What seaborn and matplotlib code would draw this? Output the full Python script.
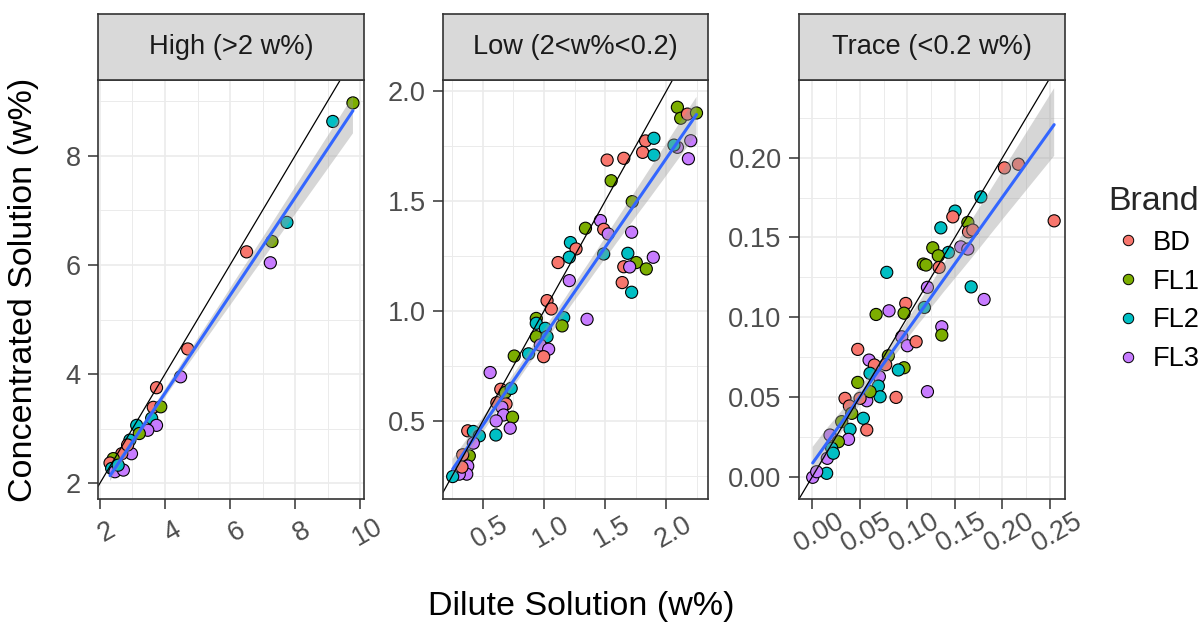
import matplotlib
matplotlib.use("Agg")
import matplotlib.pyplot as plt
import matplotlib.transforms as mtransforms
from matplotlib.ticker import MultipleLocator, FormatStrFormatter
from matplotlib.lines import Line2D
import pandas as pd
import seaborn as sns

# ---- data -------------------------------------------------------------
brands = ["BD", "FL1", "FL2", "FL3"]
brand_colors = ["#F8766D", "#7CAE00", "#00BFC4", "#C77CFF"]
panel_titles = ["High (>2 w%)", "Low (2<w%<0.2)", "Trace (<0.2 w%)"]

high_dilute = [9.78, 9.16, 7.75, 7.29, 6.51, 7.24, 4.70, 4.48, 3.74, 3.64, 3.87, 3.59, 3.74,
               3.47, 3.13, 3.21, 2.92, 2.97, 2.67, 2.41, 2.31, 2.36, 2.46, 2.72, 2.56, 2.85]
high_conc = [8.97, 8.63, 6.78, 6.43, 6.24, 6.04, 4.46, 3.95, 3.75, 3.39, 3.40, 3.19, 3.06,
             2.97, 3.06, 2.91, 2.79, 2.54, 2.54, 2.45, 2.37, 2.27, 2.21, 2.24, 2.33, 2.70]
high_brand = ["FL1", "FL2", "FL2", "FL1", "BD", "FL3", "BD", "FL3", "BD", "BD", "FL1", "FL2", "FL3",
              "FL3", "FL2", "FL1", "FL2", "FL3", "BD", "FL1", "BD", "FL2", "FL3", "FL3", "FL2", "BD"]

low_dilute = [2.090, 2.117, 2.172, 2.246, 2.199, 2.090, 2.062, 2.180, 1.830, 1.898, 1.806, 1.898,
              1.516, 1.652, 1.549, 1.721, 1.461, 1.488, 1.525, 1.339, 1.716, 1.488, 1.685, 1.893,
              1.754, 1.652, 1.700, 1.836, 1.639, 1.716, 1.216, 1.262, 1.207, 1.115, 1.207, 1.025,
              1.060, 1.352, 1.161, 0.937, 0.937, 1.011, 1.148, 0.937, 1.025, 0.970, 1.038, 0.997,
              0.757, 0.874, 0.560, 0.647, 0.683, 0.732, 0.615, 0.690, 0.656, 0.670, 0.743, 0.609,
              0.724, 0.607, 0.377, 0.423, 0.472, 0.423, 0.390, 0.336, 0.377, 0.369, 0.308, 0.254,
              0.330]
low_conc = [1.926, 1.876, 1.895, 1.900, 1.774, 1.744, 1.754, 1.692, 1.773, 1.785, 1.721, 1.709,
            1.686, 1.694, 1.592, 1.497, 1.411, 1.371, 1.350, 1.376, 1.358, 1.259, 1.262, 1.244,
            1.220, 1.201, 1.200, 1.191, 1.129, 1.085, 1.311, 1.282, 1.244, 1.220, 1.138, 1.047,
            1.009, 0.962, 0.970, 0.966, 0.944, 0.921, 0.932, 0.883, 0.883, 0.845, 0.826, 0.792,
            0.795, 0.805, 0.720, 0.644, 0.629, 0.648, 0.583, 0.577, 0.562, 0.527, 0.517, 0.500,
            0.467, 0.436, 0.455, 0.452, 0.432, 0.399, 0.341, 0.346, 0.295, 0.258, 0.258, 0.247,
            0.290]
low_brand = ["FL1", "FL1", "BD", "FL1", "FL3", "FL3", "FL2", "FL3", "BD", "FL2", "BD", "FL2",
             "BD", "BD", "FL1", "FL1", "FL3", "BD", "FL3", "FL1", "FL3", "FL2", "FL2", "FL3",
             "FL1", "BD", "FL3", "FL1", "BD", "FL2", "FL2", "BD", "FL2", "BD", "FL3", "BD",
             "BD", "FL3", "FL2", "FL1", "FL2", "FL2", "FL1", "FL1", "FL2", "FL3", "FL3", "BD",
             "FL1", "FL2", "FL3", "BD", "FL1", "FL2", "BD", "BD", "FL3", "FL3", "FL1", "FL3",
             "FL3", "FL2", "BD", "FL2", "FL2", "FL3", "FL1", "BD", "FL3", "FL3", "FL3", "FL2",
             "BD"]

trace_dilute = [0.2544, 0.2021, 0.2168, 0.1773, 0.1502, 0.1478, 0.1352, 0.1636, 0.1643, 0.1688,
                0.1562, 0.1636, 0.1432, 0.1267, 0.1326, 0.1168, 0.1196, 0.1334, 0.0783, 0.1211,
                0.1671, 0.1807, 0.1179, 0.0983, 0.0807, 0.0671, 0.0965, 0.1362, 0.1362, 0.0941,
                0.1000, 0.1092, 0.0478, 0.0597, 0.0653, 0.0800, 0.0772, 0.0607, 0.0965, 0.0905,
                0.0705, 0.0695, 0.0478, 0.1211, 0.0713, 0.0881, 0.0573, 0.0607, 0.0344, 0.0390,
                0.0502, 0.0415, 0.0537, 0.0573, 0.0309, 0.0397, 0.0381, 0.0186, 0.0274, 0.0204,
                0.0158, 0.0151, 0.0004, 0.0046, 0.0221]
trace_conc = [0.1604, 0.1936, 0.1959, 0.1754, 0.1665, 0.1629, 0.1560, 0.1594, 0.1535, 0.1546,
              0.1441, 0.1427, 0.1406, 0.1435, 0.1385, 0.1333, 0.1327, 0.1312, 0.1281, 0.1187,
              0.1190, 0.1111, 0.1061, 0.1086, 0.1040, 0.1017, 0.1025, 0.0940, 0.0888, 0.0877,
              0.0821, 0.0846, 0.0798, 0.0731, 0.0700, 0.0758, 0.0702, 0.0648, 0.0683, 0.0669,
              0.0627, 0.0568, 0.0591, 0.0533, 0.0501, 0.0497, 0.0476, 0.0533, 0.0491, 0.0443,
              0.0491, 0.0397, 0.0366, 0.0293, 0.0345, 0.0297, 0.0234, 0.0261, 0.0219, 0.0178,
              0.0115, 0.0021, -0.0004, 0.0031, 0.0147]
trace_brand = ["BD", "BD", "BD", "FL2", "FL2", "BD", "FL2", "FL1", "BD", "BD",
               "FL3", "FL3", "FL2", "FL1", "FL1", "FL1", "FL1", "BD", "FL2", "FL3",
               "FL2", "FL3", "FL2", "BD", "FL3", "FL1", "FL1", "FL3", "FL1", "FL3",
               "FL3", "BD", "BD", "FL3", "BD", "FL1", "BD", "FL2", "FL1", "FL2",
               "FL3", "FL2", "FL1", "FL3", "FL2", "BD", "FL3", "FL1", "BD", "BD",
               "BD", "FL1", "FL2", "BD", "FL1", "FL2", "FL3", "FL3", "FL1", "FL2",
               "FL3", "FL2", "FL3", "FL3", "FL2"]

panel_data = [
    (high_dilute, high_conc, high_brand),
    (low_dilute, low_conc, low_brand),
    (trace_dilute, trace_conc, trace_brand),
]

# ---- axis settings (free scales per facet) ----------------------------
x_limits = [(1.94, 10.12), (0.175, 2.34), (-0.014, 0.2658)]
y_limits = [(1.71, 9.39), (0.145, 2.05), (-0.014, 0.2487)]
major_steps = [2, 0.5, 0.05]
tick_formats = ["%d", "%.1f", "%.2f"]

# ---- styling ----------------------------------------------------------
sns.set_theme(style="ticks")
plt.rcParams["font.family"] = ["Liberation Sans", "DejaVu Sans"]

W, H = 1201, 626
fig = plt.figure(figsize=(W / 100, H / 100), dpi=100)


def px_box(x0, y0, x1, y1):
    """Axes rectangle from pixel edges (origin top-left)."""
    return [x0 / W, 1 - y1 / H, (x1 - x0) / W, (y1 - y0) / H]


panel_cols = [(98, 364), (443, 708), (799, 1065)]
strip_top, panel_top, panel_bottom = 14, 80, 499
border = "#333333"
tick_fs, title_fs = 19.6, 24.5

for i, (x0, x1) in enumerate(panel_cols):
    dil, conc, brand = panel_data[i]
    df = pd.DataFrame({"dilute": dil, "conc": conc, "Brand": brand})

    ax = fig.add_axes(px_box(x0, panel_top, x1, panel_bottom))
    ax.set_facecolor("white")

    sns.scatterplot(data=df, x="dilute", y="conc", hue="Brand", hue_order=brands,
                    palette=brand_colors, s=76, edgecolor="black", linewidth=0.8,
                    legend=False, ax=ax, zorder=3)
    sns.regplot(data=df, x="dilute", y="conc", scatter=False, ax=ax, color="#3366FF",
                ci=95, n_boot=1000, seed=7, line_kws=dict(lw=2.2, zorder=5))
    band = ax.collections[-1]
    band.set_facecolor("#999999")
    band.set_alpha(0.4)
    band.set_edgecolor("none")
    band.set_zorder(4)
    ax.axline((0, 0), slope=1, color="black", lw=0.9, zorder=6)

    ax.set_xlim(*x_limits[i])
    ax.set_ylim(*y_limits[i])
    step = major_steps[i]
    for axis in (ax.xaxis, ax.yaxis):
        axis.set_major_locator(MultipleLocator(step))
        axis.set_minor_locator(MultipleLocator(step / 2))
        axis.set_major_formatter(FormatStrFormatter(tick_formats[i]))
    ax.set_axisbelow(True)
    ax.grid(which="major", color="#EBEBEB", lw=1.2)
    ax.grid(which="minor", color="#EBEBEB", lw=0.7)
    ax.set_xlabel("")
    ax.set_ylabel("")

    for s in ax.spines.values():
        s.set_visible(True)
        s.set_color(border)
        s.set_linewidth(1.2)
        s.set_zorder(7)

    ax.tick_params(which="major", bottom=True, left=True, length=7, width=1.1,
                   color=border, labelsize=tick_fs, labelcolor="#4D4D4D", direction="out")
    ax.tick_params(which="minor", length=0)
    ax.tick_params(axis="y", pad=5.5)
    ax.tick_params(axis="x", pad=17, labelrotation=30)
    shift = mtransforms.ScaledTranslation(7 / 100, 0, fig.dpi_scale_trans)
    for lbl in ax.get_xticklabels():
        lbl.set_ha("center")
        lbl.set_va("center")
        lbl.set_rotation_mode("anchor")
        lbl.set_transform(lbl.get_transform() + shift)

    # facet strip
    sax = fig.add_axes(px_box(x0, strip_top, x1, panel_top))
    sax.set_facecolor("#D9D9D9")
    sax.set_xticks([])
    sax.set_yticks([])
    for s in sax.spines.values():
        s.set_visible(True)
        s.set_color(border)
        s.set_linewidth(1.2)
    sax.text(0.5, 0.5, panel_titles[i], ha="center", va="center", fontsize=tick_fs,
             color="#1A1A1A", transform=sax.transAxes)

# shared axis titles
fig.text((98 + 1065) / 2 / W, 1 - 606 / H, "Dilute Solution (w%)", ha="center", va="center",
         fontsize=title_fs, color="black")
fig.text(24 / W, 1 - 289.5 / H, "Concentrated Solution (w%)", ha="center", va="center",
         rotation=90, fontsize=title_fs, color="black")

# brand legend
handles = [Line2D([], [], ls="", marker="o", markersize=7.5, markerfacecolor=c,
                  markeredgecolor="black", markeredgewidth=0.7) for c in brand_colors]
leg = fig.legend(handles, brands, title="Brand", loc="upper left",
                 bbox_to_anchor=(1108 / W, 1 - 186 / H), frameon=False,
                 fontsize=tick_fs, title_fontsize=title_fs, alignment="left",
                 handlelength=1.5, handletextpad=0.15, labelspacing=0.47,
                 borderpad=0, borderaxespad=0)
for t in leg.get_texts():
    t.set_color("black")

fig.savefig("out.png", dpi=100)
